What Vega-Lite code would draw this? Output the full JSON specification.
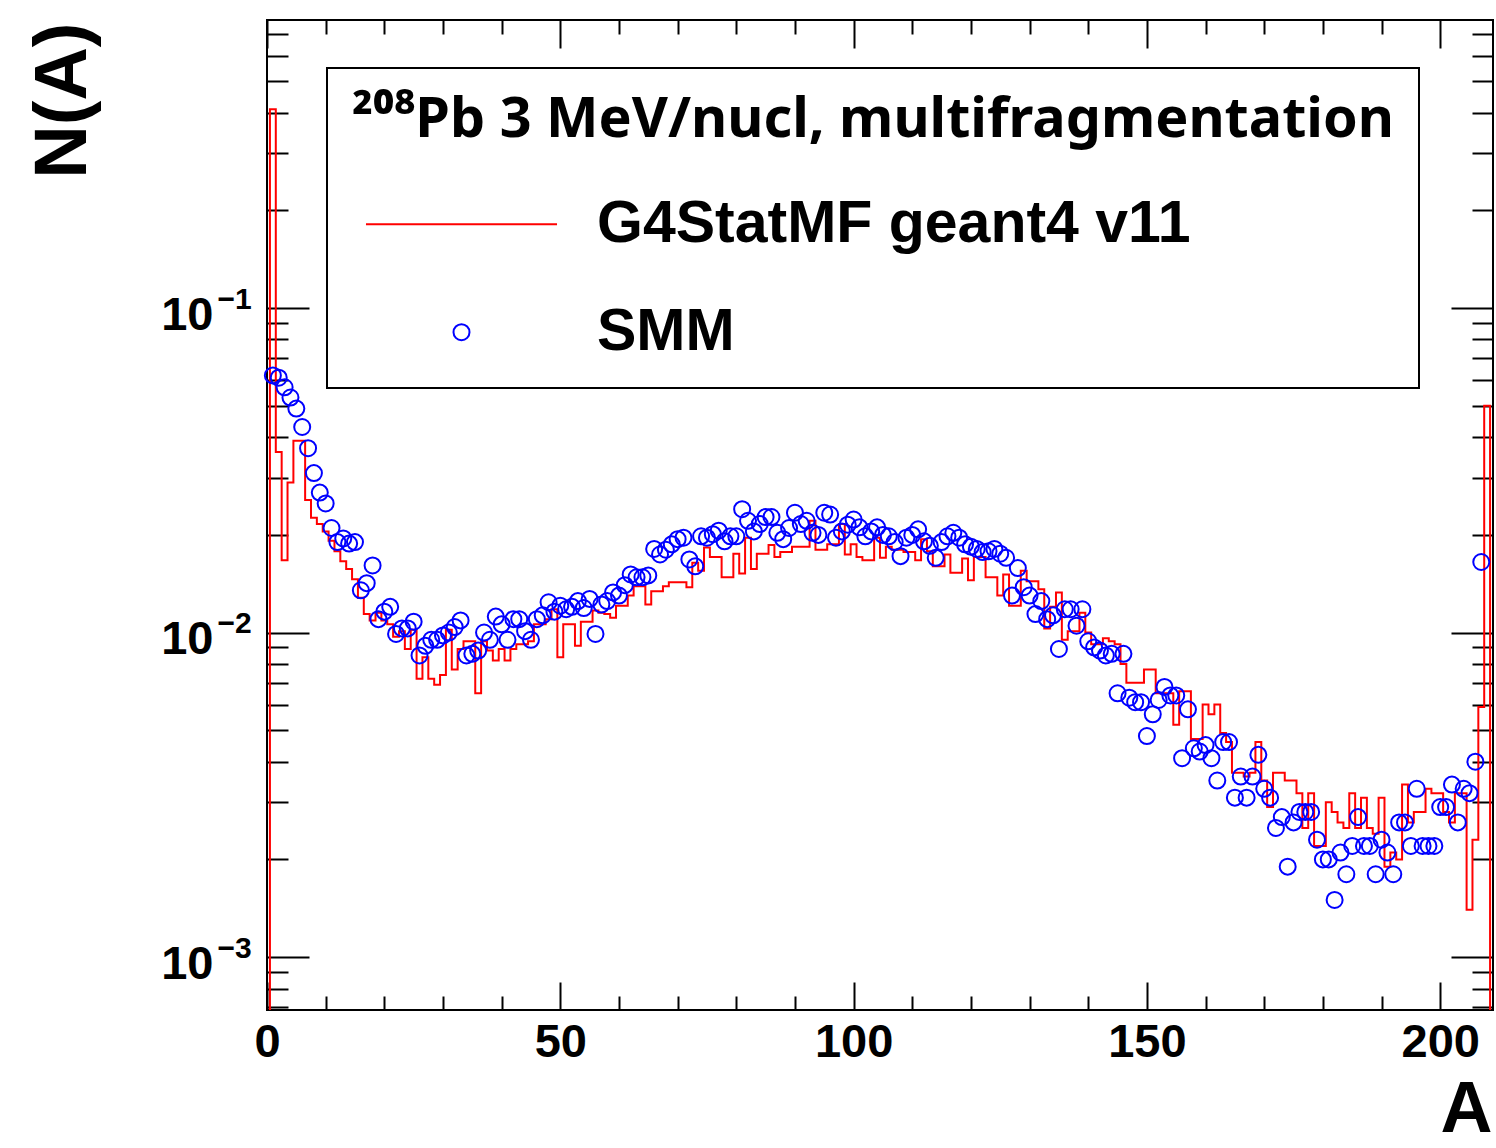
{
"$schema": "https://vega.github.io/schema/vega-lite/v6.json",
"width": 1226, "height": 990,
"autosize": {"type": "none"},
"padding": {"left": 267, "top": 20, "right": 3, "bottom": 138},
"background": "white",
"datasets": {
"hist": [
{"A":0,"N":0.0001},{"A":1,"N":0.41},{"A":2,"N":0.036},{"A":3,"N":0.0167},{"A":4,"N":0.029},{"A":5,"N":0.039},{"A":6,"N":0.039},{"A":7,"N":0.0256},{"A":8,"N":0.0226},{"A":9,"N":0.0216},
{"A":10,"N":0.0205},{"A":11,"N":0.0192},{"A":12,"N":0.0178},{"A":13,"N":0.0166},{"A":14,"N":0.0157},{"A":15,"N":0.0146},{"A":16,"N":0.0128},{"A":17,"N":0.0114},{"A":18,"N":0.0109},{"A":19,"N":0.0115},
{"A":20,"N":0.0109},{"A":21,"N":0.0106},{"A":22,"N":0.0097},{"A":23,"N":0.0101},{"A":24,"N":0.0089},{"A":25,"N":0.0102},{"A":26,"N":0.0072},{"A":27,"N":0.0084},{"A":28,"N":0.0072},{"A":29,"N":0.0069},
{"A":30,"N":0.0074},{"A":31,"N":0.0102},{"A":32,"N":0.0077},{"A":33,"N":0.0089},{"A":34,"N":0.0094},{"A":35,"N":0.0094},{"A":36,"N":0.0065},{"A":37,"N":0.0094},{"A":38,"N":0.0088},{"A":39,"N":0.0082},
{"A":40,"N":0.0089},{"A":41,"N":0.0082},{"A":42,"N":0.0089},{"A":43,"N":0.0092},{"A":44,"N":0.0092},{"A":45,"N":0.0094},{"A":46,"N":0.0106},{"A":47,"N":0.0106},{"A":48,"N":0.0110},{"A":49,"N":0.0118},
{"A":50,"N":0.0084},{"A":51,"N":0.0106},{"A":52,"N":0.0106},{"A":53,"N":0.0091},{"A":54,"N":0.0108},{"A":55,"N":0.0108},{"A":56,"N":0.0117},{"A":57,"N":0.0115},{"A":58,"N":0.0114},{"A":59,"N":0.0111},
{"A":60,"N":0.0121},{"A":61,"N":0.0121},{"A":62,"N":0.0130},{"A":63,"N":0.0139},{"A":64,"N":0.0139},{"A":65,"N":0.0122},{"A":66,"N":0.0134},{"A":67,"N":0.0134},{"A":68,"N":0.0139},{"A":69,"N":0.0143},
{"A":70,"N":0.0143},{"A":71,"N":0.0143},{"A":72,"N":0.0138},{"A":73,"N":0.0164},{"A":74,"N":0.0155},{"A":75,"N":0.0183},{"A":76,"N":0.0171},{"A":77,"N":0.0171},{"A":78,"N":0.0148},{"A":79,"N":0.0148},
{"A":80,"N":0.0175},{"A":81,"N":0.0152},{"A":82,"N":0.0196},{"A":83,"N":0.0157},{"A":84,"N":0.0175},{"A":85,"N":0.0175},{"A":86,"N":0.0186},{"A":87,"N":0.0171},{"A":88,"N":0.0177},{"A":89,"N":0.0177},
{"A":90,"N":0.0184},{"A":91,"N":0.0184},{"A":92,"N":0.0184},{"A":93,"N":0.0221},{"A":94,"N":0.0180},{"A":95,"N":0.0180},{"A":96,"N":0.0187},{"A":97,"N":0.0187},{"A":98,"N":0.0216},{"A":99,"N":0.0174},
{"A":100,"N":0.0187},{"A":101,"N":0.0171},{"A":102,"N":0.0167},{"A":103,"N":0.0167},{"A":104,"N":0.0196},{"A":105,"N":0.0170},{"A":106,"N":0.0184},{"A":107,"N":0.0180},{"A":108,"N":0.0180},{"A":109,"N":0.0177},
{"A":110,"N":0.0177},{"A":111,"N":0.0167},{"A":112,"N":0.0194},{"A":113,"N":0.0178},{"A":114,"N":0.0160},{"A":115,"N":0.0160},{"A":116,"N":0.0174},{"A":117,"N":0.0153},{"A":118,"N":0.0153},{"A":119,"N":0.0169},
{"A":120,"N":0.0145},{"A":121,"N":0.0171},{"A":122,"N":0.0171},{"A":123,"N":0.0148},{"A":124,"N":0.0148},{"A":125,"N":0.0130},{"A":126,"N":0.0151},{"A":127,"N":0.0121},{"A":128,"N":0.0121},{"A":129,"N":0.0155},
{"A":130,"N":0.0144},{"A":131,"N":0.0144},{"A":132,"N":0.0136},{"A":133,"N":0.0103},{"A":134,"N":0.0120},{"A":135,"N":0.0133},{"A":136,"N":0.0095},{"A":137,"N":0.0101},{"A":138,"N":0.0101},{"A":139,"N":0.0115},
{"A":140,"N":0.0100},{"A":141,"N":0.0092},{"A":142,"N":0.0092},{"A":143,"N":0.0096},{"A":144,"N":0.0094},{"A":145,"N":0.0092},{"A":146,"N":0.0080},{"A":147,"N":0.0070},{"A":148,"N":0.0070},{"A":149,"N":0.0070},
{"A":150,"N":0.0077},{"A":151,"N":0.0077},{"A":152,"N":0.0065},{"A":153,"N":0.0065},{"A":154,"N":0.0065},{"A":155,"N":0.0052},{"A":156,"N":0.0066},{"A":157,"N":0.0066},{"A":158,"N":0.0047},{"A":159,"N":0.0047},
{"A":160,"N":0.0060},{"A":161,"N":0.0056},{"A":162,"N":0.0060},{"A":163,"N":0.0049},{"A":164,"N":0.0046},{"A":165,"N":0.0037},{"A":166,"N":0.0037},{"A":167,"N":0.0036},{"A":168,"N":0.0037},{"A":169,"N":0.0046},
{"A":170,"N":0.0035},{"A":171,"N":0.0029},{"A":172,"N":0.0037},{"A":173,"N":0.0037},{"A":174,"N":0.0035},{"A":175,"N":0.0035},{"A":176,"N":0.0032},{"A":177,"N":0.0025},{"A":178,"N":0.0032},{"A":179,"N":0.0022},
{"A":180,"N":0.0022},{"A":181,"N":0.0030},{"A":182,"N":0.0028},{"A":183,"N":0.0026},{"A":184,"N":0.0025},{"A":185,"N":0.0032},{"A":186,"N":0.0025},{"A":187,"N":0.0031},{"A":188,"N":0.0025},{"A":189,"N":0.0024},
{"A":190,"N":0.0031},{"A":191,"N":0.0019},{"A":192,"N":0.0021},{"A":193,"N":0.0020},{"A":194,"N":0.0034},{"A":195,"N":0.0026},{"A":196,"N":0.0028},{"A":197,"N":0.0028},{"A":198,"N":0.0033},{"A":199,"N":0.0032},
{"A":200,"N":0.0032},{"A":201,"N":0.0028},{"A":202,"N":0.0026},{"A":203,"N":0.0032},{"A":204,"N":0.0032},{"A":205,"N":0.0014},{"A":206,"N":0.0023},{"A":207,"N":0.0059},{"A":208,"N":0.05},{"A":209,"N":0.0001}
],
"smm": [
{"A":1,"N":0.062},{"A":2,"N":0.061},{"A":3,"N":0.057},{"A":4,"N":0.053},{"A":5,"N":0.049},{"A":6,"N":0.043},{"A":7,"N":0.037},{"A":8,"N":0.031},{"A":9,"N":0.027},
{"A":10,"N":0.025},{"A":11,"N":0.021},{"A":12,"N":0.019},{"A":13,"N":0.0195},{"A":14,"N":0.0188},{"A":15,"N":0.019},{"A":16,"N":0.0135},{"A":17,"N":0.0142},{"A":18,"N":0.0161},{"A":19,"N":0.011},
{"A":20,"N":0.0116},{"A":21,"N":0.012},{"A":22,"N":0.0099},{"A":23,"N":0.0103},{"A":24,"N":0.0103},{"A":25,"N":0.0108},{"A":26,"N":0.0085},{"A":27,"N":0.0091},{"A":28,"N":0.0095},{"A":29,"N":0.0095},
{"A":30,"N":0.0098},{"A":31,"N":0.0100},{"A":32,"N":0.0104},{"A":33,"N":0.0109},{"A":34,"N":0.0085},{"A":35,"N":0.0086},{"A":36,"N":0.0088},{"A":37,"N":0.0100},{"A":38,"N":0.0095},{"A":39,"N":0.0112},
{"A":40,"N":0.0106},{"A":41,"N":0.0095},{"A":42,"N":0.0110},{"A":43,"N":0.0110},{"A":44,"N":0.0101},{"A":45,"N":0.0095},{"A":46,"N":0.0110},{"A":47,"N":0.0113},{"A":48,"N":0.0124},{"A":49,"N":0.0116},
{"A":50,"N":0.0121},{"A":51,"N":0.0118},{"A":52,"N":0.0120},{"A":53,"N":0.0125},{"A":54,"N":0.0119},{"A":55,"N":0.0127},{"A":56,"N":0.0099},{"A":57,"N":0.0122},{"A":58,"N":0.0125},{"A":59,"N":0.0133},
{"A":60,"N":0.0130},{"A":61,"N":0.0140},{"A":62,"N":0.0151},{"A":63,"N":0.0148},{"A":64,"N":0.0148},{"A":65,"N":0.0150},{"A":66,"N":0.0181},{"A":67,"N":0.0174},{"A":68,"N":0.0180},{"A":69,"N":0.0187},
{"A":70,"N":0.0194},{"A":71,"N":0.0196},{"A":72,"N":0.0168},{"A":73,"N":0.0160},{"A":74,"N":0.0198},{"A":75,"N":0.0196},{"A":76,"N":0.0201},{"A":77,"N":0.0206},{"A":78,"N":0.0191},{"A":79,"N":0.0198},
{"A":80,"N":0.0198},{"A":81,"N":0.0240},{"A":82,"N":0.0221},{"A":83,"N":0.0205},{"A":84,"N":0.0216},{"A":85,"N":0.0227},{"A":86,"N":0.0227},{"A":87,"N":0.0203},{"A":88,"N":0.0194},{"A":89,"N":0.0210},
{"A":90,"N":0.0234},{"A":91,"N":0.0216},{"A":92,"N":0.0221},{"A":93,"N":0.0203},{"A":94,"N":0.0200},{"A":95,"N":0.0234},{"A":96,"N":0.0231},{"A":97,"N":0.0196},{"A":98,"N":0.0205},{"A":99,"N":0.0215},
{"A":100,"N":0.0223},{"A":101,"N":0.0211},{"A":102,"N":0.0198},{"A":103,"N":0.0205},{"A":104,"N":0.0211},{"A":105,"N":0.0200},{"A":106,"N":0.0198},{"A":107,"N":0.0190},{"A":108,"N":0.0172},{"A":109,"N":0.0196},
{"A":110,"N":0.0200},{"A":111,"N":0.0208},{"A":112,"N":0.0191},{"A":113,"N":0.0185},{"A":114,"N":0.0170},{"A":115,"N":0.0190},{"A":116,"N":0.0198},{"A":117,"N":0.0203},{"A":118,"N":0.0196},{"A":119,"N":0.0187},
{"A":120,"N":0.0184},{"A":121,"N":0.0181},{"A":122,"N":0.0177},{"A":123,"N":0.0178},{"A":124,"N":0.0181},{"A":125,"N":0.0175},{"A":126,"N":0.0170},{"A":127,"N":0.0130},{"A":128,"N":0.0158},{"A":129,"N":0.0138},
{"A":130,"N":0.0130},{"A":131,"N":0.0114},{"A":132,"N":0.0125},{"A":133,"N":0.0110},{"A":134,"N":0.0113},{"A":135,"N":0.0089},{"A":136,"N":0.0118},{"A":137,"N":0.0118},{"A":138,"N":0.0105},{"A":139,"N":0.0118},
{"A":140,"N":0.0094},{"A":141,"N":0.0090},{"A":142,"N":0.0088},{"A":143,"N":0.0085},{"A":144,"N":0.0086},{"A":145,"N":0.0065},{"A":146,"N":0.0086},{"A":147,"N":0.0063},{"A":148,"N":0.0061},{"A":149,"N":0.0061},
{"A":150,"N":0.0048},{"A":151,"N":0.0056},{"A":152,"N":0.0062},{"A":153,"N":0.0068},{"A":154,"N":0.0064},{"A":155,"N":0.0064},{"A":156,"N":0.0041},{"A":157,"N":0.0058},{"A":158,"N":0.0044},{"A":159,"N":0.0043},
{"A":160,"N":0.0045},{"A":161,"N":0.0041},{"A":162,"N":0.0035},{"A":163,"N":0.0046},{"A":164,"N":0.0046},{"A":165,"N":0.0031},{"A":166,"N":0.0036},{"A":167,"N":0.0031},{"A":168,"N":0.0036},{"A":169,"N":0.0042},
{"A":170,"N":0.0033},{"A":171,"N":0.0031},{"A":172,"N":0.0025},{"A":173,"N":0.0027},{"A":174,"N":0.0019},{"A":175,"N":0.0026},{"A":176,"N":0.0028},{"A":177,"N":0.0028},{"A":178,"N":0.0028},{"A":179,"N":0.0023},
{"A":180,"N":0.0020},{"A":181,"N":0.0020},{"A":182,"N":0.0015},{"A":183,"N":0.0021},{"A":184,"N":0.0018},{"A":185,"N":0.0022},{"A":186,"N":0.0027},{"A":187,"N":0.0022},{"A":188,"N":0.0022},{"A":189,"N":0.0018},
{"A":190,"N":0.0023},{"A":191,"N":0.0021},{"A":192,"N":0.0018},{"A":193,"N":0.0026},{"A":194,"N":0.0026},{"A":195,"N":0.0022},{"A":196,"N":0.0033},{"A":197,"N":0.0022},{"A":198,"N":0.0022},{"A":199,"N":0.0022},
{"A":200,"N":0.0029},{"A":201,"N":0.0029},{"A":202,"N":0.0034},{"A":203,"N":0.0026},{"A":204,"N":0.0033},{"A":205,"N":0.0032},{"A":206,"N":0.0040},{"A":207,"N":0.0165}
]
},
"layer": [
{
"data": {"name": "hist"},
"mark": {"type": "line", "interpolate": "step", "color": "#ff0000", "strokeWidth": 2, "clip": true},
"encoding": {
"x": {"field": "A", "type": "quantitative", "scale": {"domain": [0, 209], "nice": false, "zero": false},
"axis": {"orient": "bottom", "values": [0, 50, 100, 150, 200], "tickSize": -28, "labelFontSize": 47, "labelPadding": 37,
"title": "A", "titleFontSize": 72, "titleAnchor": "end", "titleAlign": "right", "titleBaseline": "alphabetic", "titleX": 1225, "titleY": 121}},
"y": {"field": "N", "type": "quantitative", "scale": {"type": "log", "domain": [0.000687, 0.772], "nice": false},
"axis": {"orient": "left", "values": [0.001, 0.01, 0.1], "tickSize": -42, "labelFontSize": 47, "labelPadding": 96, "labelOffset": 7, "labelBaseline": "middle",
"labelExpr": "'10'",
"title": "N(A)", "titleFontSize": 74, "titleAlign": "right", "titleBaseline": "alphabetic", "titleX": -182, "titleY": 2}}
}
},
{
"data": {"name": "smm"},
"mark": {"type": "point", "filled": false, "size": 256, "strokeWidth": 2, "opacity": 1},
"encoding": {
"x": {"field": "A", "type": "quantitative", "scale": {"domain": [0, 209], "nice": false, "zero": false},
"axis": {"orient": "bottom", "values": [10, 20, 30, 40, 60, 70, 80, 90, 110, 120, 130, 140, 160, 170, 180, 190], "tickSize": -14, "labels": false, "title": null}},
"y": {"field": "N", "type": "quantitative", "scale": {"type": "log", "domain": [0.000687, 0.772], "nice": false},
"axis": {"orient": "left", "values": [0.0007, 0.0008, 0.0009, 0.002, 0.003, 0.004, 0.005, 0.006, 0.007, 0.008, 0.009, 0.02, 0.03, 0.04, 0.05, 0.06, 0.07, 0.08, 0.09, 0.2, 0.3, 0.4, 0.5, 0.6, 0.7], "tickSize": -21, "labels": false, "title": null}},
"color": {"datum": "SMM", "type": "nominal", "scale": {"domain": ["G4StatMF geant4 v11", "SMM"], "range": ["#ff0000", "#0000ff"]}, "title": "²⁰⁸Pb 3 MeV/nucl, multifragmentation"},
"shape": {"datum": "SMM", "type": "nominal", "scale": {"domain": ["G4StatMF geant4 v11", "SMM"], "range": ["M-11.94,0H11.94", "circle"]}, "title": "²⁰⁸Pb 3 MeV/nucl, multifragmentation"}
}
},
{
"data": {"name": "smm"},
"mark": {"type": "point", "opacity": 0},
"encoding": {
"x": {"field": "A", "type": "quantitative", "scale": {"domain": [0, 209], "nice": false, "zero": false},
"axis": {"orient": "top", "values": [0, 50, 100, 150, 200], "tickSize": -28, "labels": false, "title": null}},
"y": {"field": "N", "type": "quantitative", "scale": {"type": "log", "domain": [0.000687, 0.772], "nice": false},
"axis": {"orient": "right", "values": [0.001, 0.01, 0.1], "tickSize": -42, "labels": false, "title": null}}
}
},
{
"data": {"name": "smm"},
"mark": {"type": "point", "opacity": 0},
"encoding": {
"x": {"field": "A", "type": "quantitative", "scale": {"domain": [0, 209], "nice": false, "zero": false},
"axis": {"orient": "top", "values": [10, 20, 30, 40, 60, 70, 80, 90, 110, 120, 130, 140, 160, 170, 180, 190], "tickSize": -14, "labels": false, "title": null}},
"y": {"field": "N", "type": "quantitative", "scale": {"type": "log", "domain": [0.000687, 0.772], "nice": false},
"axis": {"orient": "right", "values": [0.0007, 0.0008, 0.0009, 0.002, 0.003, 0.004, 0.005, 0.006, 0.007, 0.008, 0.009, 0.02, 0.03, 0.04, 0.05, 0.06, 0.07, 0.08, 0.09, 0.2, 0.3, 0.4, 0.5, 0.6, 0.7], "tickSize": -21, "labels": false, "title": null}}
}
},
{
"data": {"name": "smm"},
"mark": {"type": "point", "opacity": 0},
"encoding": {
"x": {"field": "A", "type": "quantitative", "scale": {"domain": [0, 209], "nice": false, "zero": false},
"axis": {"orient": "top", "values": [0], "ticks": false, "labels": false, "title": null}},
"y": {"field": "N", "type": "quantitative", "scale": {"type": "log", "domain": [0.000687, 0.772], "nice": false},
"axis": {"orient": "left", "values": [0.001, 0.01, 0.1], "ticks": false, "labelFontSize": 30, "labelPadding": 50, "labelAlign": "left", "labelBaseline": "middle", "labelOffset": -9,
"labelExpr": "datum.value > 0.05 ? '−1' : (datum.value > 0.005 ? '−2' : '−3')", "title": null}}
}
}
],
"resolve": {"axis": {"x": "independent", "y": "independent"}},
"config": {
"view": {"stroke": "black", "strokeWidth": 2},
"axis": {"grid": false, "domain": false, "ticks": true, "tickColor": "black", "tickWidth": 2,
"labelFont": "Liberation Sans", "labelFontWeight": "bold", "labelColor": "black",
"titleFont": "Liberation Sans", "titleFontWeight": "bold", "titleColor": "black",
"labelFlush": false, "labelOverlap": false, "labelBound": false},
"legend": {"orient": "none", "legendX": 60, "legendY": 48, "padding": 25,
"strokeColor": "black", "strokeWidth": 2, "fillColor": "white",
"titleFont": "Noto Sans", "titleFontSize": 55.7, "titleFontWeight": "bold", "titleColor": "black", "titleLimit": 3000, "titlePadding": 46,
"labelFont": "Liberation Sans", "labelFontSize": 59, "labelFontWeight": "bold", "labelColor": "black", "labelLimit": 3000,
"labelOffset": 106, "symbolOffset": 80, "symbolSize": 256, "symbolStrokeWidth": 2, "rowPadding": 48}
}
}
